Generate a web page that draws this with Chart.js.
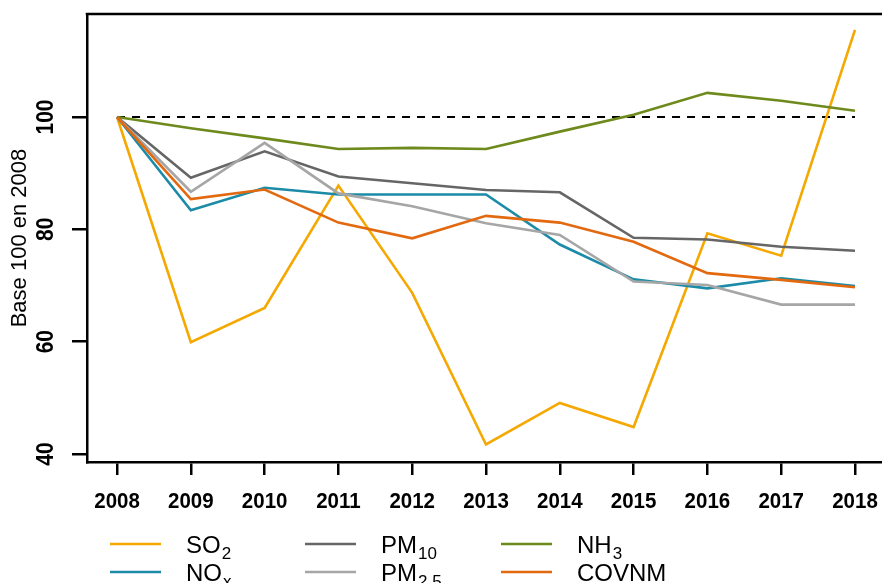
<!DOCTYPE html>
<html>
<head>
<meta charset="utf-8">
<script src="https://cdn.jsdelivr.net/npm/chart.js@4/dist/chart.umd.min.js"></script>
<style>
  html, body { margin: 0; padding: 0; background: #fff; }
  #wrap { width: 882px; height: 583px; position: relative; }
</style>
</head>
<body>
<div id="wrap"><canvas id="c" width="882" height="583"></canvas></div>
<script>
// ---- data ----
const years = [2008, 2009, 2010, 2011, 2012, 2013, 2014, 2015, 2016, 2017, 2018];
const so2   = [100, 59.9, 66.0, 87.8, 68.7, 41.7, 49.1, 44.8, 79.3, 75.3, 115.5];
const nox   = [100, 83.4, 87.4, 86.2, 86.2, 86.2, 77.3, 71.1, 69.5, 71.3, 69.9];
const pm10  = [100, 89.2, 93.9, 89.4, 88.2, 87.0, 86.6, 78.5, 78.2, 76.9, 76.2];
const pm25  = [100, 86.7, 95.4, 86.4, 84.1, 81.1, 79.0, 70.7, 70.1, 66.6, 66.6];
const nh3   = [100, 98.0, 96.2, 94.3, 94.5, 94.3, 97.4, 100.4, 104.3, 102.9, 101.1];
const covnm = [100, 85.4, 87.1, 81.2, 78.4, 82.4, 81.2, 77.8, 72.2, 71.0, 69.7];
const referenceLevel = [100, 100];
const yTicks = [40, 60, 80, 100];
const yTitle = 'Base 100 en 2008';
// legend labels: base text + subscript
const seriesBase = ['SO', 'NO', 'PM', 'PM', 'NH', 'COVNM'];
const seriesSub  = ['2', 'x', '10', '2,5', '3', ''];

const colors = ['#F5A800', '#1B8BA7', '#666666', '#A6A6A6', '#6E8A1D', '#E2690F'];
const seriesValues = [so2, nox, pm10, pm25, nh3, covnm];
const FONT = "'Liberation Sans', Arial, Helvetica, sans-serif";

const datasets = [];
datasets.push({
  label: 'ref',
  data: [{x: years[0], y: referenceLevel[0]}, {x: years[years.length - 1], y: referenceLevel[1]}],
  borderColor: '#000', borderWidth: 2, borderDash: [8, 7], pointRadius: 0, order: 20, tension: 0
});
seriesValues.forEach((vals, i) => {
  datasets.push({
    label: seriesBase[i] + seriesSub[i],
    data: years.map((yr, k) => ({x: yr, y: vals[k]})),
    borderColor: colors[i], borderWidth: 2.6, pointRadius: 0, tension: 0,
    order: 10 - i
  });
});

const decor = {
  id: 'decor',
  afterDraw(chart) {
    const ctx = chart.ctx;
    const a = chart.chartArea;
    const ys = chart.scales.y;
    const xs = chart.scales.x;
    ctx.save();
    // top frame line
    ctx.strokeStyle = '#000';
    ctx.lineWidth = 2.5;
    ctx.beginPath();
    ctx.moveTo(a.left - 1.25, a.top);
    ctx.lineTo(a.right, a.top);
    ctx.stroke();
    ctx.fillStyle = '#000';
    // x tick labels
    ctx.font = 'bold 20.5px ' + FONT;
    ctx.textAlign = 'center';
    ctx.textBaseline = 'middle';
    xs.ticks.forEach(t => {
      const px = xs.getPixelForValue(t.value);
      ctx.save();
      ctx.translate(px, 502);
      ctx.scale(1, 1.08);
      ctx.fillText(String(t.value), 0, 0);
      ctx.restore();
    });
    // y tick labels (rotated)
    ctx.font = 'bold 21px ' + FONT;
    ys.ticks.forEach(t => {
      const py = ys.getPixelForValue(t.value);
      ctx.save();
      ctx.translate(46.5, py);
      ctx.rotate(-Math.PI / 2);
      ctx.scale(1, 1.1);
      ctx.fillText(String(t.value), 0, 0);
      ctx.restore();
    });
    // y title
    ctx.font = '22px ' + FONT;
    ctx.save();
    ctx.translate(20, (a.top + a.bottom) / 2);
    ctx.rotate(-Math.PI / 2);
    ctx.fillText(yTitle, 0, 0);
    ctx.restore();
    // legend
    const colX = [110, 305, 501];
    const rowY = [544, 572];
    for (let i = 0; i < seriesBase.length; i++) {
      const col = Math.floor(i / 2), row = i % 2;
      const x = colX[col], y = rowY[row];
      ctx.strokeStyle = colors[i];
      ctx.lineWidth = 2.6;
      ctx.beginPath();
      ctx.moveTo(x, y);
      ctx.lineTo(x + 51, y);
      ctx.stroke();
      ctx.fillStyle = '#000';
      ctx.textAlign = 'left';
      ctx.textBaseline = 'alphabetic';
      ctx.font = '24px ' + FONT;
      const tx = x + 76;
      ctx.fillText(seriesBase[i], tx, y + 9);
      const w = ctx.measureText(seriesBase[i]).width;
      if (seriesSub[i]) {
        ctx.font = '17px ' + FONT;
        ctx.fillText(seriesSub[i], tx + w + 1, y + 15);
      }
    }
    ctx.restore();
  }
};

new Chart(document.getElementById('c'), {
  type: 'line',
  data: { datasets },
  options: {
    responsive: false,
    animation: false,
    events: [],
    layout: { padding: { top: 14, left: 0, right: 0, bottom: 0 } },
    plugins: { legend: { display: false }, tooltip: { enabled: false } },
    scales: {
      x: {
        type: 'linear',
        min: 2007.593, max: 2018.366,
        afterBuildTicks: s => { s.ticks = years.map(v => ({ value: v })); },
        afterFit: s => { s.height = 121; s.paddingLeft = 0; s.paddingRight = 0; },
        ticks: { display: false },
        grid: { drawOnChartArea: false, drawTicks: true, tickLength: 13, color: '#000', lineWidth: 2.5 },
        border: { display: true, color: '#000', width: 2.5 }
      },
      y: {
        type: 'linear',
        min: 38.58, max: 118.34,
        afterBuildTicks: s => { s.ticks = yTicks.map(v => ({ value: v })); },
        afterFit: s => { s.width = 87; s.paddingTop = 0; s.paddingBottom = 0; },
        ticks: { display: false },
        grid: { drawOnChartArea: false, drawTicks: true, tickLength: 15, color: '#000', lineWidth: 2.5 },
        border: { display: true, color: '#000', width: 2.5 }
      }
    }
  },
  plugins: [decor]
});
</script>
</body>
</html>
